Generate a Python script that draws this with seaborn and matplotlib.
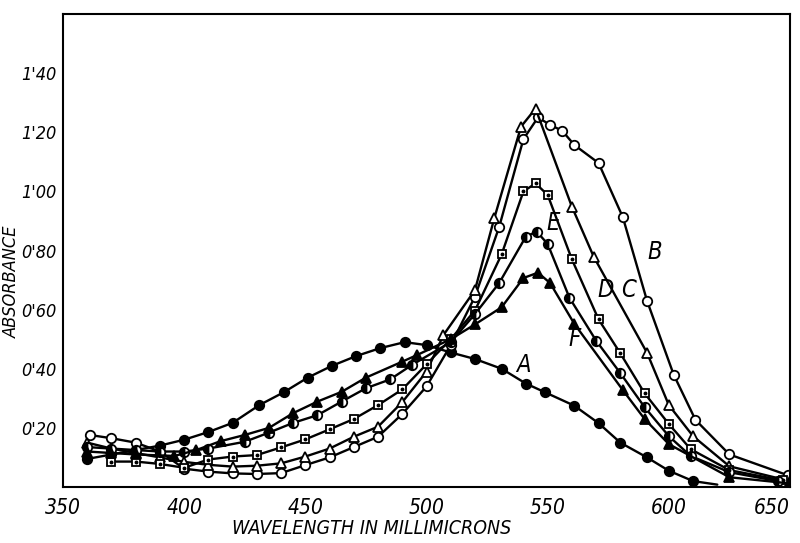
import numpy as np
import pandas as pd
import seaborn as sns
import matplotlib.pyplot as plt
from matplotlib import font_manager

# curve A - filled circles
A_x = [360, 370, 380, 390, 400, 410, 420, 431, 441, 451, 461, 471, 481, 491, 500, 510,
       520, 531, 541, 549, 561, 571, 580, 591, 600, 610, 620]
A_y = [0.095, 0.11, 0.125, 0.14, 0.16, 0.186, 0.217, 0.277, 0.32, 0.37, 0.41, 0.443, 0.47,
       0.49, 0.48, 0.455, 0.433, 0.40, 0.35, 0.32, 0.275, 0.216, 0.15, 0.10, 0.055, 0.02, 0.008]

# curve B - open circles
B_x = [361, 370, 380, 390, 400, 410, 420, 430, 440, 450, 460, 470, 480, 490, 500, 510,
       520, 530, 540, 546, 551, 556, 561, 571, 581, 591, 602, 611, 625, 649]
B_y = [0.176, 0.165, 0.15, 0.12, 0.062, 0.052, 0.046, 0.044, 0.047, 0.074, 0.10, 0.135,
       0.17, 0.247, 0.34, 0.48, 0.644, 0.88, 1.177, 1.25, 1.225, 1.205, 1.157, 1.096,
       0.913, 0.63, 0.38, 0.227, 0.11, 0.04]

# curve C - open triangles
C_x = [360, 370, 380, 390, 400, 410, 420, 430, 440, 450, 460, 470, 480, 490, 500, 507,
       520, 528, 539, 545, 560, 569, 591, 600, 610, 625, 650]
C_y = [0.15, 0.13, 0.115, 0.10, 0.085, 0.075, 0.069, 0.072, 0.08, 0.103, 0.13, 0.17, 0.204,
       0.287, 0.39, 0.514, 0.666, 0.91, 1.219, 1.28, 0.948, 0.779, 0.454, 0.277, 0.172,
       0.07, 0.02]

# curve D - dotted squares
D_x = [370, 380, 390, 400, 410, 420, 430, 440, 450, 460, 470, 480, 490, 500, 510, 520,
       531, 540, 545, 550, 560, 571, 580, 590, 600, 609, 625, 647]
D_y = [0.086, 0.086, 0.078, 0.065, 0.093, 0.103, 0.108, 0.134, 0.161, 0.195, 0.23, 0.277,
       0.33, 0.415, 0.50, 0.597, 0.787, 1.0, 1.027, 0.988, 0.77, 0.567, 0.452, 0.317,
       0.213, 0.128, 0.057, 0.022]

# curve E - half filled circles
E_x = [360, 370, 380, 390, 400, 410, 425, 435, 445, 455, 465, 475, 485, 494, 510, 520,
       530, 541, 545.5, 550, 559, 570, 580, 590, 600, 609, 625, 645]
E_y = [0.135, 0.13, 0.125, 0.12, 0.12, 0.13, 0.153, 0.184, 0.217, 0.243, 0.289, 0.334,
       0.364, 0.413, 0.49, 0.585, 0.69, 0.847, 0.864, 0.822, 0.64, 0.495, 0.385, 0.27,
       0.172, 0.105, 0.05, 0.02]

# curve F - filled triangles
F_x = [360, 370, 380, 396, 405, 415, 425, 435, 445, 455, 465, 475, 490, 496, 510, 520,
       531, 540, 546, 551, 561, 581, 590, 600, 625, 650]
F_y = [0.12, 0.115, 0.11, 0.105, 0.125, 0.155, 0.176, 0.2, 0.25, 0.289, 0.322, 0.37,
       0.424, 0.446, 0.50, 0.55, 0.608, 0.707, 0.725, 0.69, 0.552, 0.328, 0.23, 0.145,
       0.033, 0.012]

letras = ['A', 'B', 'C', 'D', 'E', 'F']
letras_x = [537, 591, 580.5, 570.5, 549.5, 558.5]
letras_y = [0.413, 0.796, 0.666, 0.666, 0.892, 0.50]

y_ticks = [0.2, 0.4, 0.6, 0.8, 1.0, 1.2, 1.4]
y_labels = ["0'20", "0'40", "0'60", "0'80", "1'00", "1'20", "1'40"]
x_ticks = [350, 400, 450, 500, 550, 600, 650]

sns.set_style('white')
nombres = set(f.name for f in font_manager.fontManager.ttflist)
if 'Liberation Sans Narrow' in nombres:
    familia = ['Liberation Sans Narrow', 'DejaVu Sans']
    estirar = 'normal'
else:
    familia = ['DejaVu Sans']
    estirar = 'condensed'
plt.rcParams['font.family'] = familia
plt.rcParams['font.stretch'] = estirar
plt.rcParams['font.style'] = 'italic'
plt.rcParams['text.color'] = 'black'
plt.rcParams['axes.labelcolor'] = 'black'

fig = plt.figure(figsize=(8, 5.43), dpi=100)
ax = fig.add_axes([63/800, 56/543, 727/800, 473/543])

estilos = {
    'A': dict(marker='o', markerfacecolor='black', markevery=list(range(len(A_x) - 1))),
    'B': dict(marker='o', markerfacecolor='white'),
    'C': dict(marker='^', markerfacecolor='white'),
    'D': dict(marker='s', markerfacecolor='white', markersize=6),
    'E': dict(marker='o', markerfacecolor='black', fillstyle='left', markerfacecoloralt='white'),
    'F': dict(marker='^', markerfacecolor='black'),
}
datos = {'A': (A_x, A_y), 'B': (B_x, B_y), 'C': (C_x, C_y),
         'D': (D_x, D_y), 'E': (E_x, E_y), 'F': (F_x, F_y)}

for k in letras:
    xs, ys = datos[k]
    kw = dict(markersize=6.8, markeredgecolor='black', markeredgewidth=1.3)
    kw.update(estilos[k])
    sns.lineplot(x=xs, y=ys, color='black', lw=1.7, sort=False, estimator=None, ax=ax, **kw)

# punto central de los cuadrados
ax.plot(D_x, D_y, ls='none', marker='o', markersize=1.8, color='black')

for t, xx, yy in zip(letras, letras_x, letras_y):
    ax.text(xx, yy, t, fontsize=17, ha='left', va='center')

ax.set_xlim(350, 650)
ax.set_ylim(0, 1.6)
ax.set_xticks(x_ticks)
ax.set_xticklabels([str(v) for v in x_ticks], fontsize=15)
ax.get_xticklabels()[-1].set_horizontalalignment('right')
ax.set_xticks([375, 425, 475, 525, 575, 625], minor=True)
ax.set_yticks(y_ticks)
ax.set_yticklabels(y_labels, fontsize=13)
ax.tick_params(axis='both', which='both', direction='in', length=6, width=1.2,
               color='black', labelcolor='black')
ax.tick_params(axis='x', pad=8)
ax.tick_params(axis='y', pad=5)

for s in ax.spines.values():
    s.set_color('black')
    s.set_linewidth(1.5)

ax.set_xlabel('WAVELENGTH IN MILLIMICRONS', fontsize=14)
ax.set_ylabel('ABSORBANCE', fontsize=13)
ax.xaxis.set_label_coords(0.425, -0.068)
ax.yaxis.set_label_coords(-0.058, 0.433)

fig.savefig('out.png', dpi=100)
